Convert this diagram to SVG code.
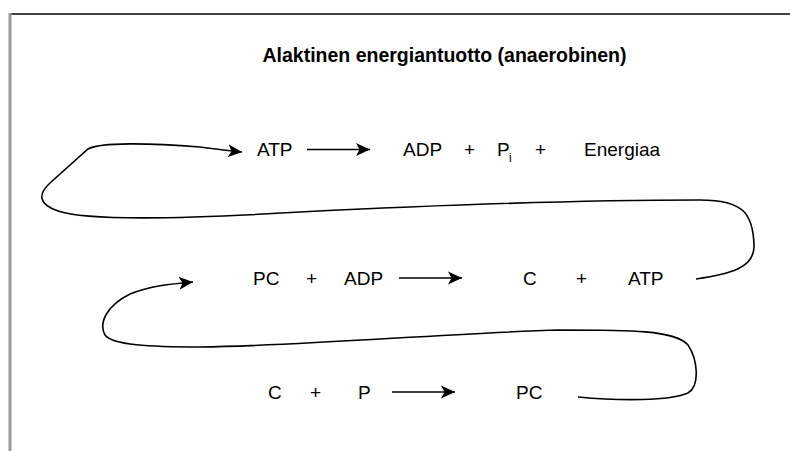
<svg xmlns="http://www.w3.org/2000/svg" width="790" height="451" viewBox="0 0 790 451">
<style>
text{font-family:"Liberation Sans",Arial,sans-serif;font-size:19px;fill:#000}
.title{font-weight:bold;font-size:19.5px;text-anchor:middle}
.c{stroke:#000;stroke-width:1.6;fill:none}
</style>
<defs>
<marker id="ah" markerUnits="userSpaceOnUse" markerWidth="16" markerHeight="14" refX="14" refY="7" orient="auto">
<path d="M0,0.5 L14,7 L0,13.5 L3.5,7 Z" fill="#000"/>
</marker>
</defs>
<rect width="790" height="451" fill="#fff"/>
<g id="frame">
<line x1="9" y1="14" x2="790" y2="14" stroke="#444" stroke-width="2"/>
<line x1="10" y1="13" x2="10" y2="451" stroke="#999" stroke-width="3"/>
</g>
<g id="title"><text class="title" x="444.5" y="62">Alaktinen energiantuotto (anaerobinen)</text></g>
<g id="row1">
<g id="r1-atp"><text x="257" y="156">ATP</text></g>
<g id="r1-adp"><text x="403" y="156">ADP</text></g>
<g id="r1-plus1"><text x="464" y="156">+</text></g>
<g id="r1-pi"><text x="497" y="156">P</text><text x="509" y="162" style="font-size:12px">i</text></g>
<g id="r1-plus2"><text x="535" y="156">+</text></g>
<g id="r1-energia"><text x="584" y="156">Energiaa</text></g>
</g>
<g id="row2">
<g id="r2-pc"><text x="253" y="285">PC</text></g>
<g id="r2-plus1"><text x="306" y="285">+</text></g>
<g id="r2-adp"><text x="344" y="285">ADP</text></g>
<g id="r2-c"><text x="523" y="285">C</text></g>
<g id="r2-plus2"><text x="576" y="285">+</text></g>
<g id="r2-atp"><text x="628" y="285">ATP</text></g>
</g>
<g id="row3">
<g id="r3-c"><text x="268" y="399">C</text></g>
<g id="r3-plus"><text x="310" y="399">+</text></g>
<g id="r3-p"><text x="358" y="399">P</text></g>
<g id="r3-pc"><text x="516" y="399">PC</text></g>
</g>
<g id="connectors">
<path class="c" d="M307,149.5 L370,149.5" marker-end="url(#ah)"/>
<path class="c" d="M399,278 L462,278" marker-end="url(#ah)"/>
<path class="c" d="M392,392 L455,392" marker-end="url(#ah)"/>
<path class="c" d="M696,279 C730,274 755,268 754,245 C753,215 745,200 700,200 C560,200 420,206 300,212 C200,218 90,222 58,211 C38,204 38,194 50,183 L88,149 C100,142 150,143 200,147 C215,149 230,151 242,152" marker-end="url(#ah)"/>
<path class="c" d="M578,397 C620,401 670,401 688,393 C700,386 698,360 688,345 C675,330 630,330 560,330 C450,333 300,346 200,347 C150,347 112,345 105,335 C98,322 108,305 130,294 C150,286 170,284 193,282" marker-end="url(#ah)"/>
</g>
</svg>
